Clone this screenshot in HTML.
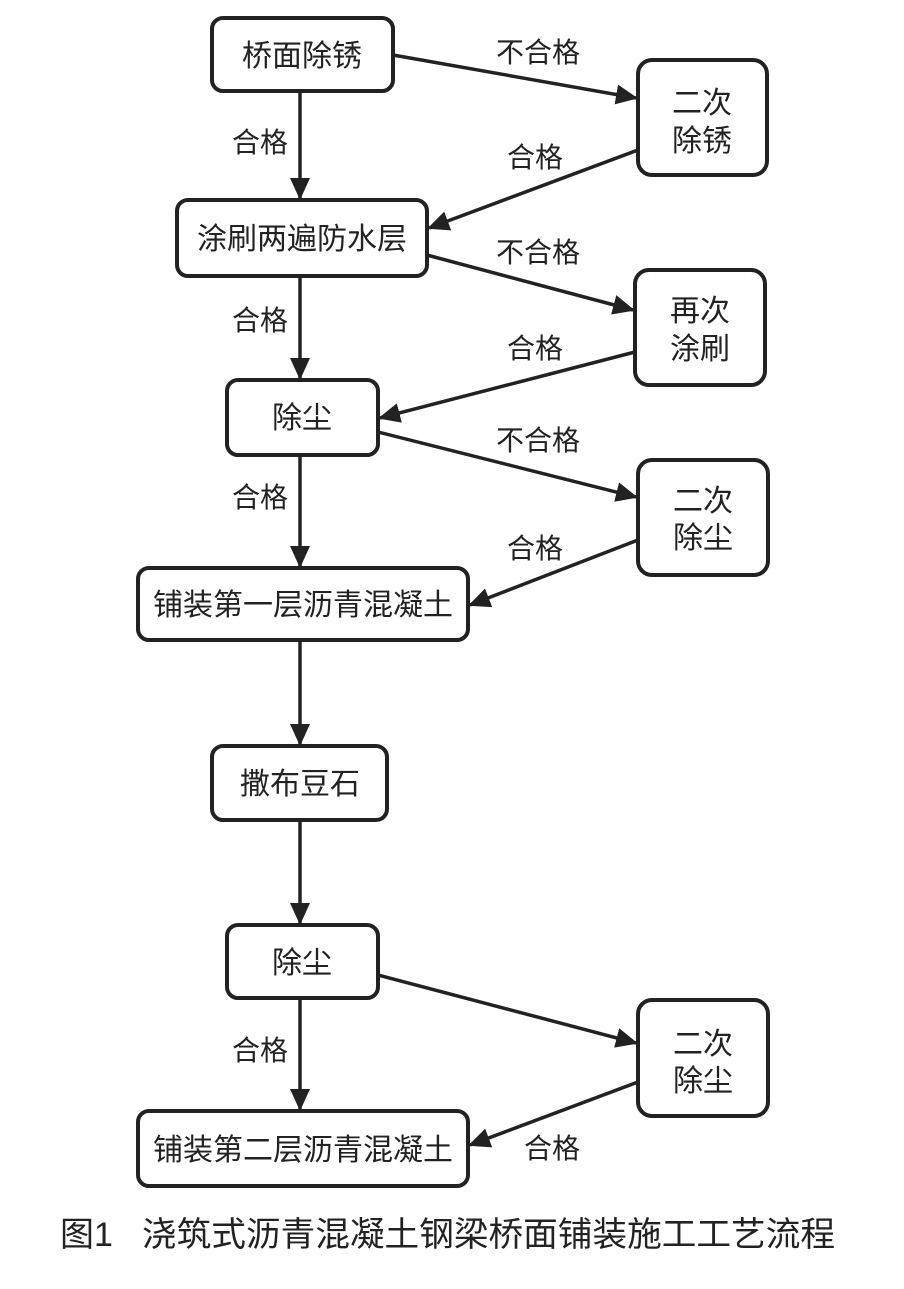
<!DOCTYPE html>
<html><head><meta charset="utf-8"><style>
body{margin:0;background:#fff;}
svg text{font-family:"Liberation Sans","Noto Sans CJK SC",sans-serif;fill:#222;}
</style></head><body>
<svg width="904" height="1284" viewBox="0 0 904 1284" xmlns="http://www.w3.org/2000/svg">
<defs>
<marker id="b" markerWidth="22" markerHeight="20" refX="20" refY="10" orient="auto" markerUnits="userSpaceOnUse"><path d="M0,0 L22,10 L0,20 z" fill="#222"/></marker></defs>
<g fill="#fff" stroke="#222" stroke-width="4">
<rect x="212" y="18" width="181" height="73" rx="11"/>
<rect x="638" y="60" width="129" height="115" rx="14"/>
<rect x="177" y="200" width="250" height="76" rx="11"/>
<rect x="635" y="270" width="130" height="115" rx="14"/>
<rect x="227" y="380" width="151" height="75" rx="11"/>
<rect x="638" y="460" width="130" height="115" rx="14"/>
<rect x="138" y="568" width="330" height="72" rx="11"/>
<rect x="212" y="746" width="175" height="74" rx="11"/>
<rect x="227" y="925" width="151" height="73" rx="11"/>
<rect x="638" y="1000" width="130" height="116" rx="14"/>
<rect x="138" y="1111" width="330" height="75" rx="11"/>
</g>
<g stroke="#222" stroke-width="3.5" marker-end="url(#b)">
<line x1="300" y1="91" x2="300" y2="198"/>
<line x1="300" y1="276" x2="300" y2="378"/>
<line x1="300" y1="455" x2="300" y2="566"/>
<line x1="300" y1="640" x2="300" y2="744"/>
<line x1="300" y1="820" x2="300" y2="923"/>
<line x1="300" y1="998" x2="300" y2="1109"/>
<line x1="393" y1="55" x2="636" y2="98"/>
<line x1="638" y1="150" x2="429" y2="228"/>
<line x1="427" y1="255" x2="633" y2="310"/>
<line x1="635" y1="352" x2="380" y2="418"/>
<line x1="378" y1="432" x2="636" y2="497"/>
<line x1="638" y1="540" x2="470" y2="605"/>
<line x1="378" y1="975" x2="636" y2="1043"/>
<line x1="638" y1="1082" x2="470" y2="1145"/>
</g>
<g font-size="30" text-anchor="middle">
<text x="302" y="66">桥面除锈</text>
<text x="702" y="113">二次</text><text x="702" y="151">除锈</text>
<text x="302" y="249">涂刷两遍防水层</text>
<text x="700" y="321">再次</text><text x="700" y="359">涂刷</text>
<text x="302" y="428">除尘</text>
<text x="703" y="511">二次</text><text x="703" y="548">除尘</text>
<text x="303" y="615">铺装第一层沥青混凝土</text>
<text x="300" y="794">撒布豆石</text>
<text x="302" y="973">除尘</text>
<text x="703" y="1054">二次</text><text x="703" y="1091">除尘</text>
<text x="303" y="1160">铺装第二层沥青混凝土</text>
</g>
<g font-size="28" text-anchor="middle">
<text x="538" y="62">不合格</text>
<text x="260" y="152">合格</text>
<text x="535" y="167">合格</text>
<text x="538" y="262">不合格</text>
<text x="260" y="330">合格</text>
<text x="535" y="358">合格</text>
<text x="538" y="450">不合格</text>
<text x="260" y="507">合格</text>
<text x="535" y="558">合格</text>
<text x="260" y="1060">合格</text>
<text x="552" y="1158">合格</text>
</g>
<text x="60" y="1246" font-size="34">图1</text>
<text x="142" y="1246" font-size="34" textLength="693" lengthAdjust="spacingAndGlyphs">浇筑式沥青混凝土钢梁桥面铺装施工工艺流程</text>
</svg>
</body></html>
